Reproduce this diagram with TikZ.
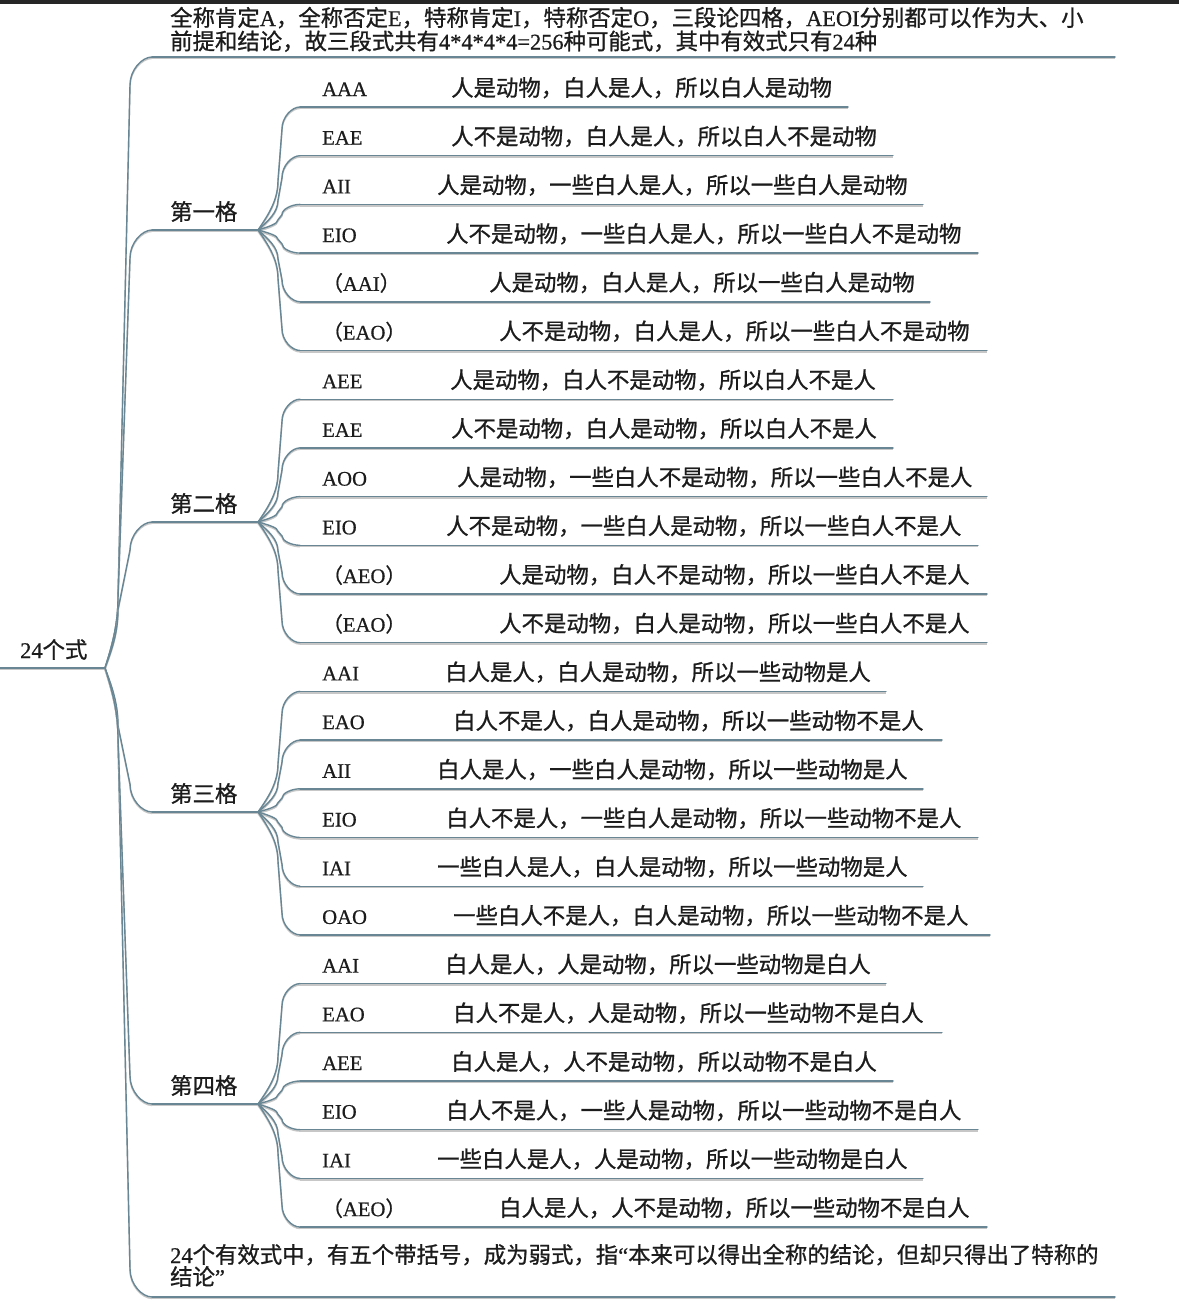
\documentclass[tikz,border=0pt]{standalone}
\usepackage{fontspec}
\setmainfont{Liberation Serif}[FakeBold=0.6]
\newfontfamily\cjk{Noto Sans CJK SC}[FakeBold=0.9]
\usetikzlibrary{calc}
\definecolor{linecol}{RGB}{104,134,148}
\definecolor{txt}{RGB}{28,28,28}
\newcommand{\zh}[1]{{\cjk #1}}
\newcommand{\mmbranch}[6]{%
  \draw[conn] let \p1=(#1), \p2=(#2),
    \n1={sign(\y2-\y1)},
    \n2={min(#5,0.4*abs(\y2-\y1))},
    \n3={min(#6,0.4*abs(\y2-\y1))}
  in (\p1) .. controls ({\x1+0.5*#3},{\y1+\n1*0.3*\n2}) and ({\x1+#3},{\y1+\n1*0.6*\n2}) .. ({\x1+#3},{\y1+\n1*\n2})
  -- ({\x2-#4},{\y2-\n1*\n3}) .. controls ({\x2-#4},{\y2-\n1*0.45*\n3}) and ({\x2-0.45*#4},\y2) .. (\p2);}
\tikzset{
  conn/.style={draw=linecol, line width=1.4pt, line cap=round,
    preaction={draw=black!22, line width=1.4pt, transform canvas={yshift=-1.4pt}}},
  lab/.style={anchor=base west, inner sep=0pt, font=\fontsize{20.7}{24}\selectfont, text=txt},
  sen/.style={anchor=base west, inner sep=0pt, font=\fontsize{22.4}{26}\selectfont\cjk, text=txt},
  cat/.style={anchor=base west, inner sep=0pt, font=\fontsize{22.4}{26}\selectfont\cjk, text=txt},
  note/.style={anchor=base west, inner sep=0pt, font=\fontsize{22.4}{26}\selectfont, text=txt},
}
\begin{document}
\begin{tikzpicture}[x=1pt,y=-1pt]
\fill[white] (0,0) rectangle (1179,1302);
\useasboundingbox (0,0) rectangle (1179,1302);
\fill[black!85] (0,0) rectangle (1179,4);

% root
\coordinate (r0) at (0,668);
\coordinate (J0) at (105,668);
\node[note] (root) at (20,658) {24\zh{个式}};
\draw[conn] (r0) -- (J0);

% top note
\coordinate (tS) at (152,57);
\coordinate (tE) at (1115,57);
\node[note] (top1) at (170,26) {\zh{全称肯定}A\zh{，全称否定}E\zh{，特称肯定}I\zh{，特称否定}O\zh{，三段论四格，}AEOI\zh{分别都可以作为大、小}};
\node[note] (top2) at (170,49.5) {\zh{前提和结论，故三段式共有}4*4*4*4=256\zh{种可能式，其中有效式只有}24\zh{种}};
\draw[conn] (tS) -- (tE);
\mmbranch{J0}{tS}{13}{22}{70}{28}

% bottom note
\coordinate (bS) at (152,1297);
\coordinate (bE) at (1115,1297);
\node[note] (bot1) at (170,1263) {24\zh{个有效式中，有五个带括号，成为弱式，指}“\zh{本来可以得出全称的结论，但却只得出了特称的}};
\node[note] (bot2) at (170,1285) {\zh{结论}”};
\draw[conn] (bS) -- (bE);
\mmbranch{J0}{bS}{13}{22}{70}{28}

% categories
\foreach \g/\nm/\yy in {1/第一格/230, 2/第二格/522, 3/第三格/812, 4/第四格/1104} {
  \coordinate (C\g) at (152,\yy);
  \coordinate (J\g) at (258,\yy);
  \node[cat] (cat\g) at (170,\yy-10) {\nm};
  \draw[conn] (C\g) -- (J\g);
  \mmbranch{J0}{C\g}{13}{22}{70}{28}
}

% leaves
\foreach \k/\lab/\xs/\sen/\xe in {
  0/AAA/451/人是动物，白人是人，所以白人是动物/848,
  1/EAE/451/人不是动物，白人是人，所以白人不是动物/893,
  2/AII/437/人是动物，一些白人是人，所以一些白人是动物/923,
  3/EIO/446/人不是动物，一些白人是人，所以一些白人不是动物/978,
  4/{\zh{（}AAI\zh{）}}/489/人是动物，白人是人，所以一些白人是动物/930,
  5/{\zh{（}EAO\zh{）}}/499/人不是动物，白人是人，所以一些白人不是动物/987,
  6/AEE/450/人是动物，白人不是动物，所以白人不是人/893,
  7/EAE/451/人不是动物，白人是动物，所以白人不是人/893,
  8/AOO/457/人是动物，一些白人不是动物，所以一些白人不是人/987,
  9/EIO/446/人不是动物，一些白人是动物，所以一些白人不是人/978,
  10/{\zh{（}AEO\zh{）}}/499/人是动物，白人不是动物，所以一些白人不是人/987,
  11/{\zh{（}EAO\zh{）}}/499/人不是动物，白人是动物，所以一些白人不是人/987,
  12/AAI/445/白人是人，白人是动物，所以一些动物是人/886,
  13/EAO/453/白人不是人，白人是动物，所以一些动物不是人/942,
  14/AII/437/白人是人，一些白人是动物，所以一些动物是人/923,
  15/EIO/446/白人不是人，一些白人是动物，所以一些动物不是人/978,
  16/IAI/437/一些白人是人，白人是动物，所以一些动物是人/923,
  17/OAO/453/一些白人不是人，白人是动物，所以一些动物不是人/990,
  18/AAI/445/白人是人，人是动物，所以一些动物是白人/886,
  19/EAO/453/白人不是人，人是动物，所以一些动物不是白人/942,
  20/AEE/451/白人是人，人不是动物，所以动物不是白人/893,
  21/EIO/446/白人不是人，一些人是动物，所以一些动物不是白人/978,
  22/IAI/437/一些白人是人，人是动物，所以一些动物是白人/923,
  23/{\zh{（}AEO\zh{）}}/499/白人是人，人不是动物，所以一些动物不是白人/987} {
  \pgfmathsetmacro\uy{107+48.7*\k}
  \pgfmathtruncatemacro\g{\k/6+1}
  \coordinate (L\k) at (300,\uy);
  \coordinate (E\k) at (\xe,\uy);
  \node[lab] (lab\k) at (322,\uy-11) {\lab};
  \node[sen] (sen\k) at (\xs,\uy-11) {\sen};
  \draw[conn] (L\k) -- (E\k);
  \mmbranch{J\g}{L\k}{20}{18}{60}{22}
}
\end{tikzpicture}
\end{document}
